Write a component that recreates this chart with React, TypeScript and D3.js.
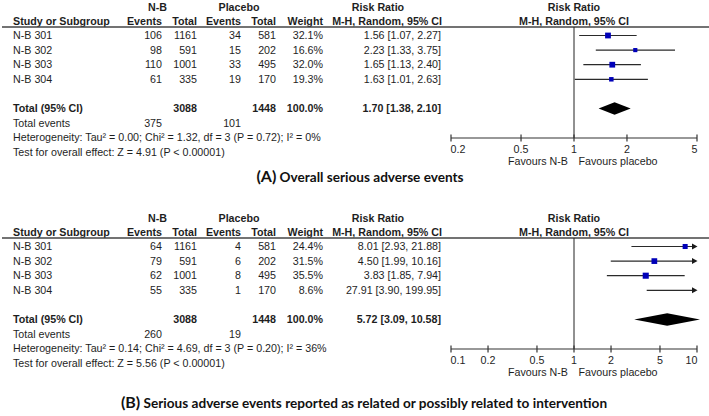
import React from "react";
import * as d3 from "d3";

// ---------- data ----------
const studies = ["N-B 301", "N-B 302", "N-B 303", "N-B 304"];
const nbTotals = [1161, 591, 1001, 335];
const plTotals = [581, 202, 495, 170];
const grandTotals = [3088, 1448];

// Panel A: overall serious adverse events
const aNBEvents = [106, 98, 110, 61];
const aPlEvents = [34, 15, 33, 19];
const aWeights = [32.1, 16.6, 32.0, 19.3];
const aRR = [1.56, 2.23, 1.65, 1.63];
const aLo = [1.07, 1.33, 1.13, 1.01];
const aHi = [2.27, 3.75, 2.40, 2.63];
const aPooled = [1.70, 1.38, 2.10];
const aTotalEvents = [375, 101];
const aHet = "Heterogeneity: Tau² = 0.00; Chi² = 1.32, df = 3 (P = 0.72); I² = 0%";
const aTest = "Test for overall effect: Z = 4.91 (P < 0.00001)";
const aTicks = [0.2, 0.5, 1, 2, 5];
const aTitle = ["(A)", "Overall serious adverse events"];

// Panel B: related / possibly related serious adverse events
const bNBEvents = [64, 79, 62, 55];
const bPlEvents = [4, 6, 8, 1];
const bWeights = [24.4, 31.5, 35.5, 8.6];
const bRR = [8.01, 4.50, 3.83, 27.91];
const bLo = [2.93, 1.99, 1.85, 3.90];
const bHi = [21.88, 10.16, 7.94, 199.95];
const bPooled = [5.72, 3.09, 10.58];
const bTotalEvents = [260, 19];
const bHet = "Heterogeneity: Tau² = 0.14; Chi² = 4.69, df = 3 (P = 0.20); I² = 36%";
const bTest = "Test for overall effect: Z = 5.56 (P < 0.00001)";
const bTicks = [0.1, 0.2, 0.5, 1, 2, 5, 10];
const bTitle = ["(B)", "Serious adverse events reported as related or possibly related to intervention"];

const favours = ["Favours N-B", "Favours placebo"];

// ---------- styling ----------
const FONT = "'Liberation Sans', Arial, sans-serif";
const TITLE_FONT = "Lato, 'Open Sans', sans-serif";
const FS = 10.7;
const TXT = "#1e1e1e";
const BLUE = "#0000b8";

const f2 = d3.format(".2f");
const f1 = d3.format(".1f");
const ciText = (r: number, l: number, h: number) => `${f2(r)} [${f2(l)}, ${f2(h)}]`;

type PanelProps = {
  top: number;
  nbEv: number[];
  plEv: number[];
  weights: number[];
  rr: number[];
  lo: number[];
  hi: number[];
  pooled: number[];
  totEv: number[];
  het: string;
  test: string;
  ticks: number[];
  title: string[];
  titleX: number;
  titleY: number;
};

const X0 = 451;
const X1 = 697;

function Panel(p: PanelProps) {
  const x = d3.scaleLog().domain([p.ticks[0], p.ticks[p.ticks.length - 1]]).range([X0, X1]);
  const [dMin, dMax] = x.domain();
  // row scale (row index -> y)
  const row = d3.scaleLinear().domain([0, 1]).range([p.top + 8.5, p.top + 8.5 + 14.6]);
  const hdr1 = p.top - 20;
  const hdr2 = p.top - 6;
  const lineY = p.top;
  const axisY = p.top + 111;
  const colR = { nbE: 162, nbT: 197, plE: 241, plT: 276, w: 323, rr: 441 };
  const t = (x0: number, y: number, s: string, anchor = "end", bold = false, key?: any) => (
    <text key={key} x={x0} y={y} dy="0.35em" textAnchor={anchor} fontWeight={bold ? "bold" : "normal"}>{s}</text>
  );
  const totalRow = row(5);
  return (
    <g fontFamily={FONT} fontSize={FS} fill={TXT}>
      {/* headers */}
      {t(157.5, hdr1, "N-B", "middle", true)}
      {t(239, hdr1, "Placebo", "middle", true)}
      {t(378, hdr1, "Risk Ratio", "middle", true)}
      {t(x(1), hdr1, "Risk Ratio", "middle", true)}
      {t(13, hdr2, "Study or Subgroup", "start", true)}
      {t(colR.nbE, hdr2, "Events", "end", true)}
      {t(colR.nbT, hdr2, "Total", "end", true)}
      {t(colR.plE, hdr2, "Events", "end", true)}
      {t(colR.plT, hdr2, "Total", "end", true)}
      {t(colR.w, hdr2, "Weight", "end", true)}
      {t(442, hdr2, "M-H, Random, 95% CI", "end", true)}
      {t(x(1), hdr2, "M-H, Random, 95% CI", "middle", true)}
      <line x1={2} x2={709} y1={lineY} y2={lineY} stroke="#444" strokeWidth={1.3} />

      {/* study rows */}
      {studies.map((s, i) => {
        const y = row(i);
        return (
          <g key={s}>
            {t(13, y, s, "start")}
            {t(colR.nbE, y, String(p.nbEv[i]))}
            {t(colR.nbT, y, String(nbTotals[i]))}
            {t(colR.plE, y, String(p.plEv[i]))}
            {t(colR.plT, y, String(plTotals[i]))}
            {t(colR.w, y, f1(p.weights[i]) + "%")}
            {t(colR.rr, y, ciText(p.rr[i], p.lo[i], p.hi[i]))}
          </g>
        );
      })}

      {/* total rows */}
      {t(13, totalRow, "Total (95% CI)", "start", true)}
      {t(colR.nbT, totalRow, String(grandTotals[0]), "end", true)}
      {t(colR.plT, totalRow, String(grandTotals[1]), "end", true)}
      {t(colR.w, totalRow, "100.0%", "end", true)}
      {t(colR.rr, totalRow, ciText(p.pooled[0], p.pooled[1], p.pooled[2]), "end", true)}
      {t(13, row(6), "Total events", "start")}
      {t(colR.nbE, row(6), String(p.totEv[0]))}
      {t(colR.plE, row(6), String(p.totEv[1]))}
      {t(13, row(7), p.het, "start")}
      {t(13, row(8), p.test, "start")}

      {/* plot: null line */}
      <line x1={x(1)} x2={x(1)} y1={lineY} y2={axisY} stroke="#222" strokeWidth={1} />

      {/* CIs */}
      {studies.map((s, i) => {
        const y = row(i);
        const l = Math.max(p.lo[i], dMin);
        const h = Math.min(p.hi[i], dMax);
        const arrowR = p.hi[i] > dMax;
        const side = 1.02 * Math.sqrt(p.weights[i]);
        const xe = x(h);
        return (
          <g key={"ci" + s}>
            <line x1={x(l)} x2={arrowR ? xe - 3 : xe} y1={y} y2={y} stroke="#2a2a2a" strokeWidth={1.2} />
            {arrowR && (
              <path d={`M${xe - 5},${y - 3} L${xe + 0.5},${y} L${xe - 5},${y + 3} Z`} fill="#1a1a1a" />
            )}
            {p.rr[i] <= dMax && p.rr[i] >= dMin && (
              <rect x={x(p.rr[i]) - side / 2} y={y - side / 2} width={side} height={side} fill={BLUE} />
            )}
          </g>
        );
      })}

      {/* pooled diamond */}
      <path
        d={`M${x(p.pooled[1])},${totalRow} L${x(p.pooled[0])},${totalRow - 6.3} L${x(p.pooled[2])},${totalRow} L${x(p.pooled[0])},${totalRow + 6.3} Z`}
        fill="#000"
      />

      {/* axis */}
      <line x1={X0} x2={X1} y1={axisY} y2={axisY} stroke="#333" strokeWidth={1.2} />
      {p.ticks.map((v, i) => (
        <g key={"tk" + v}>
          <line x1={x(v)} x2={x(v)} y1={axisY - 3.5} y2={axisY + 3.5} stroke="#333" strokeWidth={1.2} />
          {t(x(v) + (i === 0 ? -0.5 : i === p.ticks.length - 1 ? 0.5 : 0), axisY + 11.5, String(v),
            i === 0 ? "start" : i === p.ticks.length - 1 ? "end" : "middle")}
        </g>
      ))}
      {t(x(1) - 6, axisY + 23.5, favours[0], "end")}
      {t(x(1) + 4.5, axisY + 23.5, favours[1], "start")}

      {/* title */}
      <text x={p.titleX} y={p.titleY} dy="0.35em" textAnchor="middle" fontFamily={TITLE_FONT} fontWeight="bold" fill="#111">
        <tspan fontSize={16}>{p.title[0]}</tspan>
        <tspan fontSize={13.6}>{" " + p.title[1]}</tspan>
      </text>
    </g>
  );
}

export default function App() {
  return (
    <svg width={709} height={416} style={{ position: "absolute", left: 0, top: 0, background: "#fff" }}>
      <rect width={709} height={416} fill="#fff" />
      <Panel top={27} nbEv={aNBEvents} plEv={aPlEvents} weights={aWeights} rr={aRR} lo={aLo} hi={aHi}
        pooled={aPooled} totEv={aTotalEvents} het={aHet} test={aTest} ticks={aTicks} title={aTitle}
        titleX={360} titleY={178} />
      <Panel top={238} nbEv={bNBEvents} plEv={bPlEvents} weights={bWeights} rr={bRR} lo={bLo} hi={bHi}
        pooled={bPooled} totEv={bTotalEvents} het={bHet} test={bTest} ticks={bTicks} title={bTitle}
        titleX={364} titleY={404} />
    </svg>
  );
}
